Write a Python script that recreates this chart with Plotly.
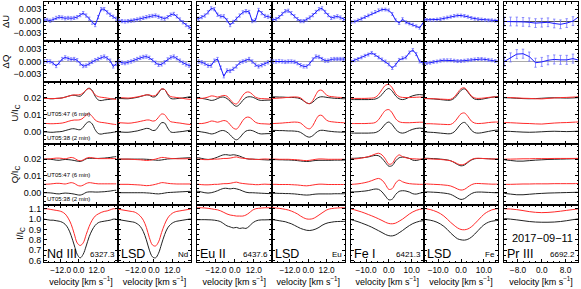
import numpy as np
import plotly.graph_objects as go

# velocity grids [km/s]
vel_a = np.arange(-25, 26, 2)          # Nd III, LSD Nd, Eu II, LSD Eu
vel_b = np.arange(-16.5, 16.6, 1.5)    # Fe I, LSD Fe
vel_c = np.arange(-12.6, 12.7, 2.1)    # Pr III

# dU, dQ, U, Q in units of 1e-3 ; I in units of continuum
# --- Nd III 6327.3
du_nd3 = [0.2, 0.2, 0.3, 0.1, 0.4, 0.8, 1.0, 0.9, 0.7, 0.8, 0.7, 0.8, 1.0, 1.5, 2.0, 1.4, 0.6, -0.4, -1.0, 1.0, 3.0, 3.0, 2.2, 1.6, 1.1, 0.6]
dq_nd3 = [0.0, 0.0, 0.1, 0.0, -0.4, -1.1, -0.3, 0.6, 1.0, 0.7, 0.5, 0.6, 0.3, -0.5, -1.1, -1.0, -0.5, -0.1, 0.3, 0.6, 1.0, 1.2, 0.8, 0.2, -1.2, -0.6]
ub_nd3 = [-0.3, -0.3, -0.3, -0.5, -0.5, -0.3, -0.2, 0.0, 0.5, 1.0, 1.5, 1.6, 1.2, 1.0, 2.5, 4.8, 5.8, 4.5, 1.0, -1.2, -1.6, -1.2, -1.0, -0.8, -0.5, -0.3]
ur_nd3 = [-0.2, -0.2, -0.3, -0.4, -0.4, -0.3, -0.2, 0.0, 0.4, 1.0, 1.5, 1.8, 1.8, 2.0, 3.0, 4.8, 5.5, 4.0, 1.8, 0.8, 0.4, 0.2, -0.1, -0.4, -0.7, -0.9]
qb_nd3 = [0.0, 0.0, 0.0, -0.1, -0.3, -0.6, -0.7, -0.4, -0.2, -0.3, -0.5, -0.8, -1.2, -1.4, -0.8, 0.2, 0.5, 0.5, 0.4, 0.4, 0.5, 0.6, 0.8, 1.0, 1.3, 1.5]
qr_nd3 = [0.0, 0.0, 0.1, 0.2, 0.4, 0.6, 0.6, 0.4, 0.2, 0.6, 1.0, 0.6, -0.5, -1.0, -0.5, 0.5, 1.0, 0.8, 0.5, 0.3, 0.3, 0.3, 0.3, 0.3, 0.3, 0.3]
ib_nd3 = [1.0, 1.0, 0.995, 0.99, 0.99, 0.985, 0.98, 0.97, 0.95, 0.91, 0.84, 0.75, 0.66, 0.625, 0.66, 0.74, 0.83, 0.895, 0.94, 0.965, 0.975, 0.98, 0.985, 0.99, 1.0, 1.0]
ir_nd3 = [1.10, 1.10, 1.10, 1.095, 1.09, 1.085, 1.08, 1.07, 1.05, 1.01, 0.95, 0.86, 0.77, 0.745, 0.77, 0.85, 0.93, 0.99, 1.03, 1.05, 1.065, 1.075, 1.08, 1.09, 1.10, 1.10]

# --- LSD Nd
du_lsdnd = [0.1, 0.1, 0.0, -0.1, 0.0, 0.1, 0.2, 0.4, 0.6, 0.8, 1.0, 1.2, 1.3, 1.4, 1.1, 0.7, 0.6, 1.0, 1.6, 1.8, 1.2, 0.4, -0.3, -1.0, -1.5, -1.8]
dq_lsdnd = [0.0, 0.0, -0.3, -0.4, -0.2, 0.0, 0.3, 0.6, 0.9, 1.1, 1.2, 0.9, 0.3, -0.3, -0.8, -0.7, -0.2, 0.5, 1.0, 1.2, 0.8, 0.2, -0.3, -0.7, -1.0, -1.1]
ub_lsdnd = [-0.4, -0.4, -0.4, -0.5, -0.5, -0.3, 0.0, 0.3, 0.8, 1.3, 1.8, 1.6, 0.6, 0.8, 3.0, 5.2, 5.0, 2.0, -0.3, -0.6, -0.4, -0.2, 0.0, 0.3, 0.6, 0.8]
ur_lsdnd = [0.2, 0.2, 0.1, 0.0, -0.1, 0.0, 0.3, 0.6, 1.0, 1.4, 1.8, 1.8, 1.2, 1.5, 3.5, 5.4, 5.0, 2.5, 0.8, 0.5, 0.2, 0.0, -0.3, -0.6, -0.8, -1.0]
qb_lsdnd = [0.0, 0.0, 0.0, 0.0, 0.0, 0.0, 0.0, 0.0, 0.0, 0.0, -0.1, -0.2, -0.4, -0.6, -0.7, -0.5, -0.2, 0.1, 0.2, 0.3, 0.4, 0.5, 0.6, 0.7, 0.8, 0.8]
qr_lsdnd = [0.0, 0.0, 0.0, 0.0, 0.0, -0.1, -0.2, -0.3, -0.4, -0.6, -0.8, -0.7, -0.4, 0.0, 0.5, 1.0, 0.9, 0.6, 0.4, 0.3, 0.2, 0.2, 0.2, 0.2, 0.2, 0.2]
ib_lsdnd = [0.995, 0.995, 0.99, 0.985, 0.98, 0.975, 0.97, 0.955, 0.93, 0.88, 0.80, 0.70, 0.635, 0.625, 0.67, 0.76, 0.85, 0.915, 0.95, 0.97, 0.98, 0.985, 0.99, 0.995, 1.0, 1.0]
ir_lsdnd = [1.095, 1.095, 1.09, 1.085, 1.08, 1.075, 1.07, 1.055, 1.03, 0.99, 0.92, 0.82, 0.75, 0.74, 0.78, 0.87, 0.95, 1.01, 1.045, 1.065, 1.075, 1.08, 1.085, 1.09, 1.095, 1.10]

# --- Eu II 6437.6
du_eu2 = [0.5, 0.6, 1.0, 1.4, 2.2, 3.2, 3.0, 1.6, 1.2, 1.2, 0.2, -1.0, -0.2, 0.6, 1.4, 2.2, 2.5, 2.3, 0.0, 0.2, 2.8, 2.0, 1.3, 1.1, 0.9, 0.8]
dq_eu2 = [0.0, 0.0, -0.2, -0.5, -1.0, -1.0, 0.2, 0.6, -1.5, -3.6, -2.2, -2.3, -1.8, -1.2, -0.3, 0.0, 0.2, 0.6, 0.0, -0.8, -1.2, -0.9, -0.6, -0.2, 0.2, 0.3]
ub_eu2 = [0.0, 0.0, -0.3, -0.6, -1.0, -1.5, -1.2, -0.4, 0.4, 0.5, -0.4, -2.0, -4.0, -5.0, -3.8, -1.5, 0.2, 0.7, 0.5, -0.3, -1.2, -1.5, -1.4, -1.3, -1.3, -1.3]
ur_eu2 = [-0.3, -0.3, -0.3, 0.0, 0.5, 1.2, 1.0, 0.5, 1.0, 1.5, 1.0, -1.0, -3.0, -3.6, -1.5, 1.5, 3.3, 3.5, 2.2, 0.5, -0.2, -0.4, -0.5, -0.6, -0.7, -0.7]
qb_eu2 = [0.8, 0.8, 0.4, 0.0, -0.2, 0.0, 0.5, 1.2, 2.0, 2.6, 2.6, 2.3, 2.6, 2.3, 1.8, 1.0, 0.3, 0.0, 0.0, -0.1, -0.2, -0.3, -0.4, -0.5, -0.5, -0.5]
qr_eu2 = [0.0, 0.0, -0.2, -0.3, -0.3, -0.2, 0.0, 0.0, 0.2, 0.4, 0.4, 0.6, 1.0, 1.3, 0.8, 0.5, 0.3, 0.1, 0.0, -0.2, -0.2, 0.0, 0.1, 0.0, 0.0, 0.0]
ib_eu2 = [0.995, 0.995, 0.995, 0.995, 0.994, 0.993, 0.99, 0.985, 0.975, 0.955, 0.935, 0.925, 0.915, 0.92, 0.91, 0.915, 0.91, 0.93, 0.96, 0.98, 0.99, 0.993, 0.993, 0.994, 0.994, 0.994]
ir_eu2 = [1.11, 1.11, 1.11, 1.108, 1.105, 1.10, 1.095, 1.09, 1.08, 1.065, 1.05, 1.04, 1.035, 1.03, 1.03, 1.03, 1.04, 1.06, 1.085, 1.10, 1.105, 1.108, 1.11, 1.11, 1.11, 1.11]

# --- LSD Eu
du_lsdeu = [0.3, 0.3, 0.5, 1.0, 1.8, 2.5, 2.6, 2.0, 1.2, 0.5, 0.0, 0.0, 0.4, 0.9, 1.5, 2.3, 3.0, 3.2, 2.3, 1.5, 0.8, 1.0, 1.2, 0.9, 0.5, 0.2]
dq_lsdeu = [0.0, 0.0, 0.0, 0.1, 0.0, -0.1, 0.0, 0.0, -0.1, -0.4, -0.9, -1.2, -1.2, -0.5, 0.5, 1.2, 1.1, 0.6, 0.2, 0.2, 0.5, 0.6, 0.6, 0.6, 0.6, 0.6]
ub_lsdeu = [0.6, 0.6, 0.6, 0.5, 0.5, 0.4, 0.3, 0.3, 0.2, 0.0, -0.6, -1.8, -3.0, -3.4, -2.5, -0.8, 0.4, 0.7, 0.5, 0.2, 0.0, -0.2, -0.3, -0.4, -0.5, -0.5]
ur_lsdeu = [-0.3, -0.3, -0.2, -0.1, 0.0, 0.2, 0.3, 0.5, 0.6, 0.5, 0.0, -1.5, -3.0, -3.4, -1.5, 2.0, 4.5, 4.5, 2.5, 1.2, 0.8, 0.6, 0.4, 0.3, 0.2, 0.2]
qb_lsdeu = [-0.3, -0.3, -0.3, -0.4, -0.4, -0.5, -0.5, -0.6, -0.7, -0.9, -1.1, -1.3, -1.4, -1.3, -1.0, -0.8, -0.7, -0.7, -0.7, -0.7, -0.7, -0.6, -0.6, -0.6, -0.6, -0.6]
qr_lsdeu = [0.0, 0.0, 0.0, -0.1, -0.1, -0.1, -0.1, -0.2, -0.3, -0.4, -0.6, -0.8, -0.9, -0.7, -0.4, -0.1, 0.1, 0.1, 0.0, -0.1, -0.1, -0.1, -0.1, -0.1, -0.1, -0.1]
ib_lsdeu = [0.995, 0.995, 0.99, 0.985, 0.98, 0.975, 0.965, 0.955, 0.94, 0.925, 0.91, 0.90, 0.892, 0.89, 0.895, 0.905, 0.92, 0.94, 0.955, 0.965, 0.97, 0.975, 0.977, 0.978, 0.978, 0.978]
ir_lsdeu = [1.11, 1.11, 1.108, 1.105, 1.10, 1.095, 1.088, 1.078, 1.065, 1.05, 1.03, 1.013, 1.002, 1.0, 1.005, 1.02, 1.04, 1.06, 1.08, 1.095, 1.102, 1.106, 1.108, 1.11, 1.11, 1.11]

# --- Fe I 6421.3
du_fe1 = [-0.2, -0.1, 0.2, 0.6, 1.0, 1.4, 1.9, 2.3, 2.7, 2.9, 2.9, 2.7, 1.8, 0.2, -0.5, 0.5, -0.3, -0.6, -0.9, -1.3, -1.7, -0.4, 0.0]
dq_fe1 = [0.0, 0.3, 0.6, 1.0, 1.4, 1.7, 2.1, 1.6, 1.0, 0.5, 0.0, -0.7, -1.6, -0.8, 0.4, 0.8, 1.0, 2.2, 2.8, 1.8, 0.0, -0.4, -0.5]
ub_fe1 = [-1.0, -1.0, -1.0, -1.0, -1.0, -1.0, -0.9, -0.7, 0.2, 2.0, 4.5, 5.6, 4.0, 1.2, -0.5, -1.0, -0.5, 0.5, 1.3, 1.8, 2.0, 1.8, 1.7]
ur_fe1 = [-0.3, -0.3, -0.3, -0.3, -0.3, -0.2, -0.1, 0.3, 2.0, 5.0, 7.5, 8.0, 6.0, 2.5, 0.8, 0.3, 0.2, 0.2, 0.3, 0.4, 0.5, 0.5, 0.5]
qb_fe1 = [0.5, 0.5, 0.6, 0.8, 1.0, 1.3, 1.8, 2.2, 2.0, 0.5, -2.0, -4.2, -3.8, -1.0, 0.8, 1.2, 1.0, 0.4, -0.6, -0.8, -0.3, 0.2, 0.3]
qr_fe1 = [0.0, 0.1, 0.3, 0.6, 1.0, 1.5, 2.2, 3.0, 3.5, 2.5, 0.0, -3.0, -2.5, 0.8, 2.5, 1.5, 0.8, 0.4, 0.2, 0.1, 0.0, 0.0, 0.0]
ib_fe1 = [0.995, 0.985, 0.975, 0.963, 0.95, 0.937, 0.922, 0.905, 0.888, 0.87, 0.852, 0.84, 0.838, 0.848, 0.868, 0.89, 0.915, 0.938, 0.957, 0.97, 0.98, 0.985, 0.988]
ir_fe1 = [1.098, 1.09, 1.08, 1.07, 1.058, 1.045, 1.032, 1.018, 1.003, 0.987, 0.97, 0.958, 0.955, 0.962, 0.98, 1.0, 1.025, 1.05, 1.07, 1.085, 1.095, 1.10, 1.102]

# --- LSD Fe
du_lsdfe = [0.3, 0.3, 0.3, 0.3, 0.4, 0.5, 0.7, 0.9, 1.1, 1.3, 1.4, 1.4, 1.3, 1.1, 0.8, 0.6, 0.5, 0.4, 0.3, 0.2, 0.2, 0.1, 0.1]
dq_lsdfe = [-0.2, -0.4, -0.3, -0.1, 0.0, 0.2, 0.3, 0.3, 0.3, 0.2, 0.1, 0.1, 0.2, 0.3, 0.4, 0.5, 0.6, 0.6, 0.5, 0.4, 0.3, 0.1, 0.0]
ub_lsdfe = [-0.4, -0.4, -0.5, -0.6, -0.8, -1.0, -1.2, -1.4, -1.3, -0.3, 2.0, 4.5, 5.4, 3.5, 0.8, -0.7, -1.0, -0.8, -0.4, 0.0, 0.4, 0.7, 0.8]
ur_lsdfe = [-0.4, -0.4, -0.4, -0.5, -0.6, -0.7, -0.8, -0.9, -0.8, 0.5, 3.0, 5.5, 6.0, 4.0, 1.2, 0.0, -0.3, -0.2, 0.0, 0.3, 0.5, 0.6, 0.6]
qb_lsdfe = [0.5, 0.5, 0.4, 0.3, 0.2, 0.0, -0.2, -0.5, -1.0, -2.0, -3.2, -4.0, -3.5, -2.0, -0.6, 0.2, 0.4, 0.4, 0.3, 0.2, 0.1, 0.0, 0.0]
qr_lsdfe = [0.2, 0.2, 0.1, 0.0, -0.1, -0.2, -0.4, -0.6, -1.0, -1.8, -2.8, -3.4, -3.0, -1.6, -0.3, 0.4, 0.5, 0.4, 0.3, 0.2, 0.1, 0.1, 0.1]
ib_lsdfe = [0.998, 0.995, 0.99, 0.982, 0.97, 0.953, 0.93, 0.90, 0.865, 0.835, 0.81, 0.80, 0.797, 0.805, 0.825, 0.855, 0.89, 0.925, 0.952, 0.97, 0.98, 0.985, 0.988]
ir_lsdfe = [1.105, 1.10, 1.093, 1.083, 1.07, 1.053, 1.03, 1.0, 0.968, 0.94, 0.915, 0.90, 0.897, 0.905, 0.925, 0.955, 0.99, 1.025, 1.055, 1.075, 1.09, 1.098, 1.102]

# --- Pr III 6692.2
du_pr3 = [-0.1, -0.1, -0.1, -0.2, -0.3, -0.5, -0.4, -0.3, -0.6, -0.8, -0.5, 0.0, 1.2]
dq_pr3 = [0.0, 1.0, 1.8, 1.9, 1.2, -0.3, -0.1, 0.3, 0.5, 0.4, 0.4, 0.7, 0.3]
ub_pr3 = [0.1, 0.0, -0.2, -0.4, -0.5, -0.4, -0.2, 0.0, 0.1, 0.0, -0.1, 0.0, 0.2]
ur_pr3 = [0.3, 0.2, 0.0, -0.2, -0.3, -0.5, -0.6, -0.3, 0.0, 0.2, 0.3, 0.5, 0.7]
qb_pr3 = [-0.4, -0.8, -1.2, -1.2, -0.9, -0.6, -0.4, -0.2, -0.1, 0.0, 0.1, 0.2, 0.3]
qr_pr3 = [0.0, 0.0, 0.1, 0.2, 0.2, 0.3, 0.3, 0.3, 0.4, 0.4, 0.4, 0.4, 0.5]
ib_pr3 = [1.005, 1.0, 0.993, 0.985, 0.977, 0.972, 0.97, 0.97, 0.972, 0.977, 0.985, 0.995, 1.003]
ir_pr3 = [1.10, 1.098, 1.092, 1.083, 1.073, 1.066, 1.063, 1.065, 1.07, 1.077, 1.085, 1.093, 1.10]

line_names = ['Nd III', 'LSD', 'Eu II', 'LSD', 'Fe I', 'LSD', 'Pr III']
line_tags = ['6327.3', 'Nd', '6437.6', 'Eu', '6421.3', 'Fe', '6692.2']
err_du = [0.4, 0.4, 0.4, 0.4, 0.35, 0.35, 1.1]   # 1e-3
x_ranges = [[-23.1, 26.2], [-23.6, 24.3], [-24, 23.2], [-24, 24],
            [-16.8, 15.4], [-16.2, 16.2], [-12.7, 12.2]]
x_ticks = [[-12, 0, 12]] * 4 + [[-10, 0, 10]] * 2 + [[-8, 0, 8]]
x_minor = [4, 4, 4, 4, 2.5, 2.5, 2]

cols = [
    (vel_a, du_nd3, dq_nd3, ub_nd3, ur_nd3, qb_nd3, qr_nd3, ib_nd3, ir_nd3),
    (vel_a, du_lsdnd, dq_lsdnd, ub_lsdnd, ur_lsdnd, qb_lsdnd, qr_lsdnd, ib_lsdnd, ir_lsdnd),
    (vel_a, du_eu2, dq_eu2, ub_eu2, ur_eu2, qb_eu2, qr_eu2, ib_eu2, ir_eu2),
    (vel_a, du_lsdeu, dq_lsdeu, ub_lsdeu, ur_lsdeu, qb_lsdeu, qr_lsdeu, ib_lsdeu, ir_lsdeu),
    (vel_b, du_fe1, dq_fe1, ub_fe1, ur_fe1, qb_fe1, qr_fe1, ib_fe1, ir_fe1),
    (vel_b, du_lsdfe, dq_lsdfe, ub_lsdfe, ur_lsdfe, qb_lsdfe, qr_lsdfe, ib_lsdfe, ir_lsdfe),
    (vel_c, du_pr3, dq_pr3, ub_pr3, ur_pr3, qb_pr3, qr_pr3, ib_pr3, ir_pr3),
]

# figure geometry (pixels)
W, H = 581, 289
ml, mr, mt, mb = 44, 3, 2, 27
col_px = [(44, 118), (118, 191), (197, 271.5), (271.5, 345), (350.5, 424), (424, 498), (504, 578)]
row_px = [(2, 41), (41, 82), (82, 144), (144, 205), (205, 262)]
pw, ph = W - ml - mr, H - mt - mb

rows = [
    dict(rng=[-0.005, 0.0048], tv=[-0.003, 0, 0.003], fmt='.3f', minor=0.001, title='ΔU', zl='#555555'),
    dict(rng=[-0.005, 0.005], tv=[-0.003, 0, 0.003], fmt='.3f', minor=0.001, title='ΔQ', zl='#aaaaaa'),
    dict(rng=[-0.0075, 0.0295], tv=[0, 0.01, 0.02], fmt='.2f', minor=0.0025, title='U/I<sub>C</sub>', zl=None),
    dict(rng=[-0.0073, 0.029], tv=[0, 0.01, 0.02], fmt='.2f', minor=0.0025, title='Q/I<sub>C</sub>', zl=None),
    dict(rng=[0.585, 1.137], tv=[0.6, 0.7, 0.8, 0.9, 1.0, 1.1], fmt='.1f', minor=0.05, title='I/I<sub>C</sub>', zl=None),
]

FONT = 'Liberation Sans, Arial, sans-serif'
BLACK = '#222222'
RED = '#ff2a2a'
BLUE = '#1a1aff'

fig = go.Figure()
layout = {}
annotations = []

for c, (vel, du, dq, ub, ur, qb, qr, ib, ir) in enumerate(cols):
    for r in range(5):
        n = r * 7 + c + 1
        sx = '' if n == 1 else str(n)
        xa, ya = 'x' + sx, 'y' + sx
        x0, x1 = col_px[c]
        y0, y1 = row_px[r]
        xax = dict(
            domain=[(x0 - ml) / pw, (x1 - ml) / pw], anchor=ya, range=x_ranges[c],
            tickmode='array', tickvals=x_ticks[c], tickformat='.1f', tickangle=0,
            showticklabels=(r == 4), ticks='inside', ticklen=3, tickcolor='black',
            minor=dict(dtick=x_minor[c], tick0=0, ticks='inside', ticklen=1.5, tickcolor='black'),
            showline=True, linecolor='black', linewidth=1, mirror='ticks',
            showgrid=False, zeroline=False,
            tickfont=dict(size=8.3, family=FONT, color='black'),
        )
        if r == 4:
            xax['title'] = dict(text='velocity [km s<sup>−1</sup>]',
                                font=dict(size=9, family=FONT, color='black'), standoff=1)
        layout['xaxis' + sx] = xax

        rw = rows[r]
        yax = dict(
            domain=[1 - (y1 - mt) / ph, 1 - (y0 - mt) / ph], anchor=xa, range=rw['rng'],
            tickmode='array', tickvals=rw['tv'], tickformat=rw['fmt'],
            showticklabels=(c == 0), ticks='inside', ticklen=3, tickcolor='black',
            minor=dict(dtick=rw['minor'], tick0=0, ticks='inside', ticklen=1.5, tickcolor='black'),
            showline=True, linecolor='black', linewidth=1, mirror='ticks',
            showgrid=False,
            zeroline=rw['zl'] is not None, zerolinecolor=rw['zl'] or 'black', zerolinewidth=1.2,
            tickfont=dict(size=9, family=FONT, color='black'),
        )
        if c == 0:
            yax['title'] = dict(text=rw['title'], font=dict(size=9.5, family=FONT, color='black'),
                                standoff=3)
        layout['yaxis' + sx] = yax

        if r in (0, 1):
            vals = np.array(du if r == 0 else dq) * 1e-3
            fig.add_trace(go.Scatter(
                x=vel, y=vals, xaxis=xa, yaxis=ya, mode='lines',
                line=dict(color=BLUE, width=1),
                error_y=dict(type='constant', value=err_du[c] * 1e-3, color='rgba(110,110,255,0.75)',
                             thickness=1, width=1.2),
            ))
        elif r in (2, 3):
            blk = np.array(ub if r == 2 else qb) * 1e-3
            red = np.array(ur if r == 2 else qr) * 1e-3
            for yv, col in [(blk + 0.02, BLACK), (red + 0.02, RED), (red + 0.005, RED), (blk, BLACK)]:
                fig.add_trace(go.Scatter(x=vel, y=yv, xaxis=xa, yaxis=ya, mode='lines',
                                         line=dict(color=col, width=1, shape='spline')))
        else:
            for yv, col in [(ib, BLACK), (ir, RED)]:
                fig.add_trace(go.Scatter(x=vel, y=yv, xaxis=xa, yaxis=ya, mode='lines',
                                         line=dict(color=col, width=1, shape='spline')))

    # labels in the intensity panels
    n = 28 + c + 1
    annotations.append(dict(text=line_names[c], xref='x%d domain' % n, yref='y%d domain' % n,
                            x=0.02, y=-0.01, xanchor='left', yanchor='bottom', showarrow=False,
                            font=dict(size=12.5, family=FONT, color='black')))
    annotations.append(dict(text=line_tags[c], xref='x%d domain' % n, yref='y%d domain' % n,
                            x=0.98, y=0.01, xanchor='right', yanchor='bottom', showarrow=False,
                            font=dict(size=8, family=FONT, color='black')))

annotations.append(dict(text='2017−09−11', xref='x35 domain', yref='y35 domain',
                        x=0.52, y=0.42, xanchor='center', yanchor='middle', showarrow=False,
                        font=dict(size=11, family=FONT, color='black')))

# exposure labels in U and Q panels
for n in (15, 22):
    annotations.append(dict(text='UT05:47 (6 min)', xref='x%d domain' % n, yref='y%d' % n,
                            x=0.02, y=0.0105, xanchor='left', yanchor='middle', showarrow=False,
                            font=dict(size=6, family=FONT, color='black')))
    annotations.append(dict(text='UT05:38 (2 min)', xref='x%d domain' % n, yref='y%d' % n,
                            x=0.02, y=-0.0039, xanchor='left', yanchor='middle', showarrow=False,
                            font=dict(size=6, family=FONT, color='black')))

fig.update_layout(**layout)
fig.update_layout(
    width=W, height=H,
    margin=dict(l=ml, r=mr, t=mt, b=mb),
    plot_bgcolor='white', paper_bgcolor='white',
    showlegend=False,
    annotations=annotations,
    font=dict(family=FONT, color='black'),
)

fig.write_html("out.html", config={'displayModeBar': False},
               post_script="document.body.style.margin='0';")
